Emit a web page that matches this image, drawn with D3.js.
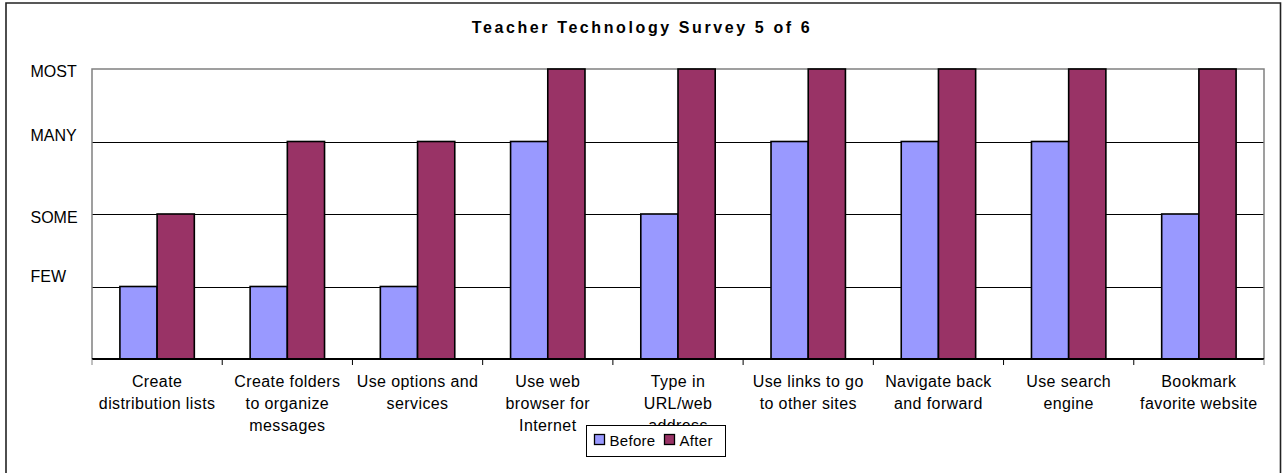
<!DOCTYPE html>
<html>
<head>
<meta charset="utf-8">
<script src="https://cdn.jsdelivr.net/npm/d3@7"></script>
<style>
  html, body { margin: 0; padding: 0; background: #fff; }
  svg { display: block; font-family: Arial, "Liberation Sans", sans-serif; }
</style>
</head>
<body>
<svg id="chart" width="1285" height="473"></svg>
<script>
const title = "Teacher Technology Survey 5 of 6";
const categories = [
  "Create\ndistribution lists",
  "Create folders\nto organize\nmessages",
  "Use options and\nservices",
  "Use web\nbrowser for\nInternet",
  "Type in\nURL/web\naddress",
  "Use links to go\nto other sites",
  "Navigate back\nand forward",
  "Use search\nengine",
  "Bookmark\nfavorite website"
];
const seriesNames = ["Before", "After"];
const beforeValues = [1, 1, 1, 3, 2, 3, 3, 3, 2];
const afterValues  = [2, 3, 3, 4, 4, 4, 4, 4, 4];
const levelLabels = ["", "FEW", "SOME", "MANY", "MOST"];
const colors = ["#9999FF", "#993366"];

// layout (not data)
const margin = { left: 92, right: 1264, top: 69, bottom: 359 };
const levelLabelNudge = [0, -10, 3, -6, 2];

const svg = d3.select("#chart");

// outer frame
svg.append("path")
  .attr("d", `M6,473 L6,3 L1280.5,3 L1280.5,473`)
  .attr("fill", "none").attr("stroke", "#222").attr("stroke-width", 1.6);

const x0 = d3.scaleBand().domain(d3.range(categories.length))
  .range([margin.left, margin.right]).paddingInner(0).paddingOuter(0);
const gapRatio = 1.5;
const barW = x0.bandwidth() / (2 + gapRatio);
const y = d3.scaleLinear().domain([0, 4]).range([margin.bottom, margin.top]);

// title
const t = svg.append("text")
  .attr("x", 642).attr("y", 33)
  .attr("text-anchor", "middle")
  .attr("font-size", 16).attr("font-weight", "bold")
  .attr("letter-spacing", 2.6)
  .text(title);

// gridlines
svg.append("g").selectAll("line").data([1, 2, 3]).join("line")
  .attr("x1", margin.left).attr("x2", margin.right)
  .attr("y1", d => Math.round(y(d)) + 0.5).attr("y2", d => Math.round(y(d)) + 0.5)
  .attr("stroke", "#000").attr("stroke-width", 1);

// plot area border (gray)
svg.append("path")
  .attr("d", `M${margin.left},${margin.bottom} L${margin.left},${y(4)} L${margin.right},${y(4)} L${margin.right},${margin.bottom}`)
  .attr("fill", "none").attr("stroke", "#808080").attr("stroke-width", 1.5);

// y labels
svg.append("g").selectAll("text").data(d3.range(1, 5)).join("text")
  .attr("x", 30.5).attr("y", d => y(d) + levelLabelNudge[d])
  .attr("font-size", 16)
  .attr("dominant-baseline", "central")
  .text(d => levelLabels[d]);

// bars
const groups = svg.append("g").selectAll("g").data(categories.map((c, i) => i)).join("g");
groups.selectAll("rect")
  .data(i => [beforeValues[i], afterValues[i]].map((v, s) => ({ i, s, v })))
  .join("rect")
  .attr("x", d => x0(d.i) + barW * (gapRatio / 2) + d.s * barW)
  .attr("width", barW)
  .attr("y", d => y(d.v))
  .attr("height", d => y(0) - y(d.v))
  .attr("fill", d => colors[d.s])
  .attr("stroke", "#000").attr("stroke-width", 1.6);

// x axis
const xAxisG = svg.append("g");
xAxisG.append("line")
  .attr("x1", margin.left).attr("x2", margin.right)
  .attr("y1", margin.bottom).attr("y2", margin.bottom)
  .attr("stroke", "#000").attr("stroke-width", 1.8);
xAxisG.selectAll("line.tick").data(d3.range(categories.length + 1)).join("line")
  .attr("class", "tick")
  .attr("x1", d => d < categories.length ? x0(d) : margin.right)
  .attr("x2", d => d < categories.length ? x0(d) : margin.right)
  .attr("y1", margin.bottom).attr("y2", margin.bottom + 6)
  .attr("stroke", d => d === 0 || d === categories.length ? "#808080" : "#000")
  .attr("stroke-width", 1);

// category labels
const lab = svg.append("g").selectAll("text").data(categories).join("text")
  .attr("text-anchor", "middle")
  .attr("font-size", 16).attr("letter-spacing", 0.4)
  .attr("transform", (d, i) => `translate(${x0(i) + x0.bandwidth() / 2},${386.5})`);
lab.selectAll("tspan").data(d => d.split("\n")).join("tspan")
  .attr("x", 0).attr("dy", (d, j) => j === 0 ? 0 : 22)
  .text(d => d);

// legend
const lg = svg.append("g").attr("transform", "translate(586,425)");
lg.append("rect").attr("x", 0.5).attr("y", 0.5).attr("width", 139).attr("height", 31)
  .attr("fill", "#fff").attr("stroke", "#000").attr("stroke-width", 1);
const items = lg.selectAll("g.item").data(seriesNames).join("g")
  .attr("class", "item")
  .attr("transform", (d, i) => `translate(${8.5 + i * 70},9.5)`);
items.append("rect").attr("width", 10).attr("height", 10)
  .attr("fill", (d, i) => colors[i]).attr("stroke", "#000").attr("stroke-width", 1.3);
items.append("text").attr("x", 15).attr("y", 5.5)
  .attr("dominant-baseline", "central")
  .attr("font-size", 15).attr("letter-spacing", 0.3)
  .text(d => d);
</script>
</body>
</html>
